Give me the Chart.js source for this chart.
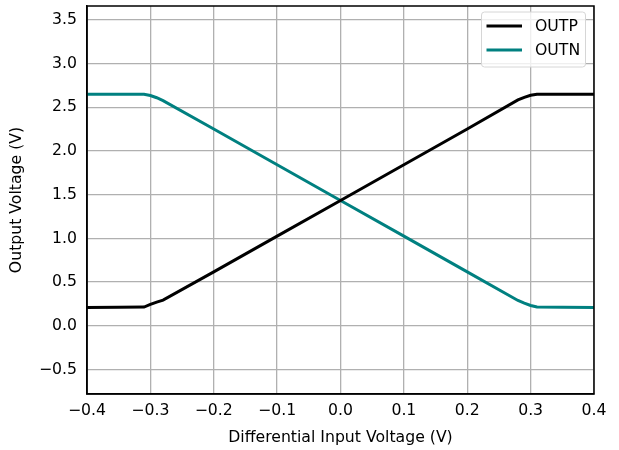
<!DOCTYPE html>
<html>
<head>
<meta charset="utf-8">
<script src="https://cdn.jsdelivr.net/npm/chart.js@4.4.1/dist/chart.umd.min.js"></script>
<style>
  html, body { margin: 0; padding: 0; background: #fff; }
  #wrap { width: 619px; height: 450px; position: relative; }
</style>
</head>
<body>
<div id="wrap"><canvas id="c" width="619" height="450"></canvas></div>
<script>
// ---- data ----
const xValues = [-0.40, -0.35, -0.31, -0.30, -0.29, -0.28, -0.20, -0.10, 0.00, 0.10, 0.20, 0.28, 0.29, 0.30, 0.31, 0.35, 0.40];
const outpValues = [0.21, 0.212, 0.215, 0.245, 0.272, 0.295, 0.617, 1.026, 1.435, 1.844, 2.253, 2.585, 2.615, 2.638, 2.65, 2.65, 2.65];
const outnValues = [2.65, 2.65, 2.65, 2.635, 2.61, 2.577, 2.253, 1.844, 1.435, 1.026, 0.617, 0.29, 0.26, 0.233, 0.215, 0.212, 0.21];
const seriesLabels = ['OUTP', 'OUTN'];
const seriesColors = ['#000000', '#008080'];
const xTicks = [-0.4, -0.3, -0.2, -0.1, 0, 0.1, 0.2, 0.3, 0.4];
const yTicks = [-0.5, 0, 0.5, 1.0, 1.5, 2.0, 2.5, 3.0, 3.5];
const xTitle = 'Differential Input Voltage (V)';
const yTitle = 'Output Voltage (V)';

const FONT = 'DejaVu Sans';
const FS = 15.7;
function fmt(v, d) {
  const s = Math.abs(v).toFixed(d);
  return (v < -1e-9 ? '\u2212' : '') + s;
}

const legendPlugin = {
  id: 'boxLegend',
  afterDraw(chart) {
    const ctx = chart.ctx;
    const x0 = 481.5, y0 = 12, w = 104, h = 55;
    ctx.save();
    ctx.fillStyle = 'rgba(255,255,255,0.8)';
    ctx.strokeStyle = '#d6d6d6';
    ctx.lineWidth = 1;
    ctx.beginPath();
    ctx.roundRect(x0, y0, w, h, 3);
    ctx.fill();
    ctx.stroke();
    ctx.font = FS + 'px "' + FONT + '"';
    ctx.textBaseline = 'middle';
    chart.data.datasets.forEach((ds, i) => {
      const cy = y0 + 14 + i * 24;
      ctx.strokeStyle = ds.borderColor;
      ctx.lineWidth = 3;
      ctx.beginPath();
      ctx.moveTo(x0 + 5, cy);
      ctx.lineTo(x0 + 40.5, cy);
      ctx.stroke();
      ctx.fillStyle = '#000';
      ctx.fillText(ds.label, x0 + 53.5, cy + 1);
    });
    ctx.restore();
  }
};

new Chart(document.getElementById('c'), {
  type: 'line',
  data: {
    datasets: [
      { label: seriesLabels[0], data: xValues.map((x, i) => ({ x, y: outpValues[i] })), borderColor: seriesColors[0], backgroundColor: seriesColors[0], borderWidth: 3, pointRadius: 0, tension: 0, fill: false },
      { label: seriesLabels[1], data: xValues.map((x, i) => ({ x, y: outnValues[i] })), borderColor: seriesColors[1], backgroundColor: seriesColors[1], borderWidth: 3, pointRadius: 0, tension: 0, fill: false }
    ]
  },
  options: {
    responsive: false,
    animation: false,
    devicePixelRatio: 1,
    layout: { padding: { left: 0, right: 25, top: 6, bottom: 0 } },
    plugins: { legend: { display: false }, tooltip: { enabled: false } },
    scales: {
      x: {
        type: 'linear', min: -0.4, max: 0.4,
        afterBuildTicks: s => { s.ticks = xTicks.map(v => ({ value: v })); },
        afterFit: s => { s.height = 56; s.paddingLeft = 0; s.paddingRight = 0; },
        grid: { color: '#b0b0b0', lineWidth: 1.3, drawTicks: false },
        border: { color: '#000', width: 1.5 },
        ticks: { color: '#000', font: { family: FONT, size: FS }, padding: 8, maxRotation: 0, callback: v => fmt(v, 1) },
        title: { display: true, text: xTitle, color: '#000', font: { family: FONT, size: FS }, padding: { top: 2, bottom: 3 } }
      },
      y: {
        type: 'linear', min: -0.78, max: 3.66,
        afterBuildTicks: s => { s.ticks = yTicks.map(v => ({ value: v })); },
        afterFit: s => { s.width = 87; s.paddingTop = 0; s.paddingBottom = 0; },
        grid: { color: '#b0b0b0', lineWidth: 1.3, drawTicks: false },
        border: { color: '#000', width: 1.5 },
        ticks: { color: '#000', font: { family: FONT, size: FS }, padding: 10, callback: v => fmt(v, 1) },
        title: { display: true, text: yTitle, color: '#000', font: { family: FONT, size: FS }, padding: { top: 8, bottom: 0 } }
      }
    }
  },
  plugins: [legendPlugin, {
    id: 'frame',
    afterDatasetsDraw(chart) {
      const a = chart.chartArea, ctx = chart.ctx;
      ctx.save();
      ctx.strokeStyle = '#000';
      ctx.lineWidth = 1.5;
      ctx.strokeRect(a.left, a.top, a.right - a.left, a.bottom - a.top);
      ctx.restore();
    }
  }]
});
</script>
</body>
</html>
